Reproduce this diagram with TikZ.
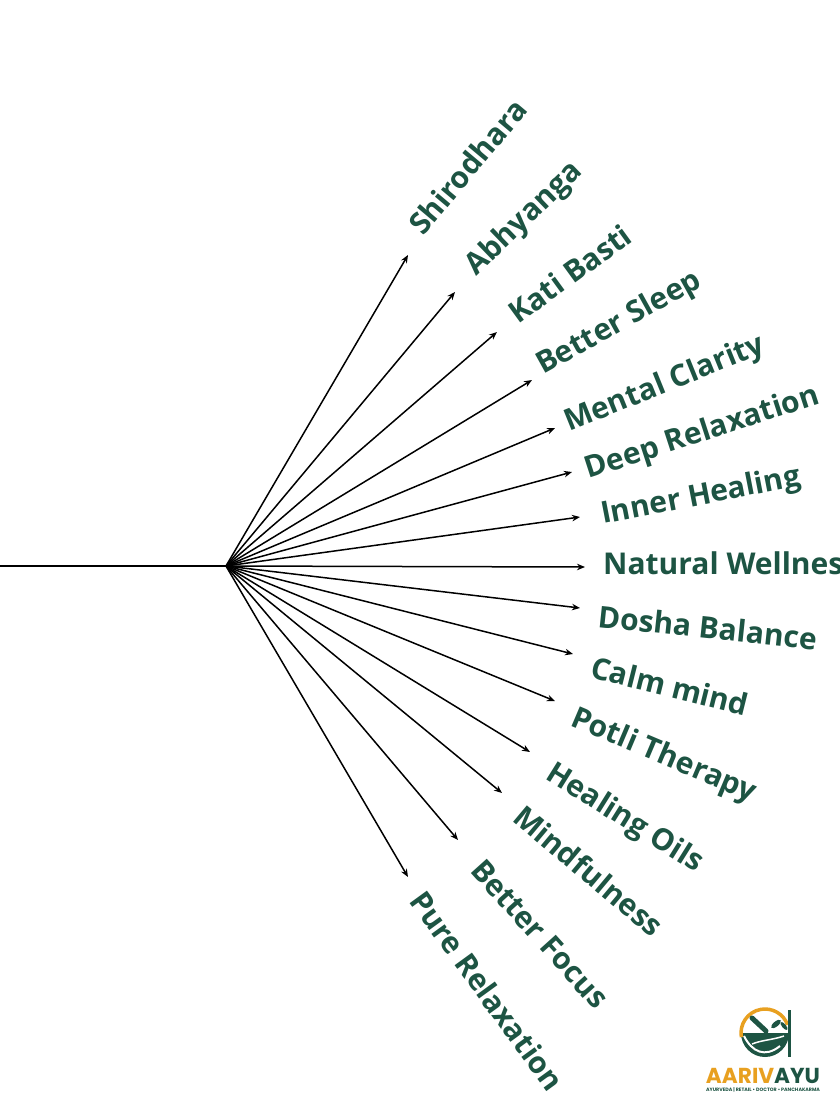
\documentclass[tikz,border=0pt]{standalone}
\usepackage{fontspec}
\usepackage{graphicx}
\setmainfont{Open Sans}
\newfontfamily\logofont{Poppins}
\usetikzlibrary{arrows.meta}
\definecolor{leafgreen}{RGB}{29,84,67}
\definecolor{logoorange}{RGB}{232,160,32}
\tikzset{
    spoke/.style={line width=1.5pt, -{Stealth[length=8pt,width=6.5pt]}},
    benefit/.style={anchor=base west, inner sep=0pt, text=leafgreen,
        font=\fontsize{30}{32}\selectfont\bfseries}
}
\begin{document}
\begin{tikzpicture}[x=1pt,y=-1pt]
            \clip (0,0) rectangle (840,1120);
            \coordinate (start) at (0,566);
            \coordinate (hub) at (226,566);
            \draw[line width=2.5pt] (start) -- (hub);
            \foreach \n/\tx/\ty/\lx/\ly/\a/\t in {
                    1/408/255/423/237/50/Shirodhara,
                    2/455/292/476/277/44/Abhyanga,
                    3/497/332/518/325/36/Kati Basti,
                    4/532/380/543/375/29/Better Sleep,
                    5/555/428/569/432/22/Mental Clarity,
                    6/572/472/588/479/18/Deep Relaxation,
                    7/580/517/603/524/11/Inner Healing,
                    8/585/567/603/574/0/Natural Wellness,
                    9/580/608/597/627/-6/Dosha Balance,
                    10/573/654/589/677/-14/Calm mind,
                    11/555/701/569/725/-23/Potli Therapy,
                    12/530/752/544/778/-32/Healing Oils,
                    13/502/793/511/820/-40/Mindfulness,
                    14/458/840/469/871/-48/Better Focus,
                    15/408/877/408/901/-54/Pure Relaxation} {
                    \coordinate (tip\n) at (\tx,\ty);
                    \draw[spoke] (hub) -- (tip\n);
                    \node[benefit, rotate=\a] (label\n) at (\lx,\ly) {\t};
                }
            % logo
            \coordinate (emblem) at (765,1033);
            \fill[leafgreen] (emblem) ++(24,0) arc[start angle=0, end angle=180, radius=24] -- cycle;
            \draw[logoorange, line width=3.5pt] (emblem) ++(170:24) arc[start angle=170, end angle=340, radius=24];
            \draw[white, line width=2pt] (744,1036) .. controls (752,1052) and (765,1058) .. (780,1046);
            \draw[white, line width=1.5pt] (752,1044) .. controls (762,1040) and (772,1040) .. (784,1036);
            \draw[leafgreen, line width=5pt, line cap=round] (752,1018) -- (766,1031);
            \fill[leafgreen, rotate around={-50:(776,1024)}] (776,1024) ellipse (2.5pt and 6pt);
            \fill[leafgreen, rotate around={40:(784,1026)}] (784,1026) ellipse (2pt and 5pt);
            \fill[leafgreen] (787.5,1010) rectangle (790.5,1057);
            \node[inner sep=0pt] (brand) at (763,1076)
                {\resizebox{114pt}{!}{\logofont\bfseries\textcolor{logoorange}{AARIV}\textcolor{leafgreen}{AYU}}};
            \node[inner sep=0pt] (tagline) at (763,1090)
                {\resizebox{114pt}{!}{\logofont\bfseries\color{leafgreen} AYURVEDA | RETAIL • DOCTOR • PANCHAKARMA}};
        \end{tikzpicture}
\end{document}
